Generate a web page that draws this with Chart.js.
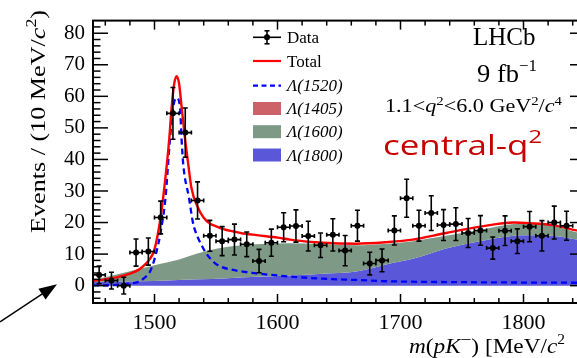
<!DOCTYPE html>
<html>
<head>
<meta charset="utf-8">
<script src="https://cdn.jsdelivr.net/npm/chart.js@4.4.0/dist/chart.umd.min.js"></script>
<style>
  html, body { margin: 0; padding: 0; background: #fff; overflow: hidden; }
  #wrap { width: 600px; height: 358px; }
</style>
</head>
<body>
<div id="wrap"><canvas id="chart" width="600" height="358"></canvas></div>
<script>
// m(pK-) histogram, 10 MeV bins
const binCentres = [1455, 1465, 1475, 1485, 1495, 1505, 1515, 1525, 1535, 1545,
  1555, 1565, 1575, 1585, 1595, 1605, 1615, 1625, 1635, 1645,
  1655, 1665, 1675, 1685, 1695, 1705, 1715, 1725, 1735, 1745,
  1755, 1765, 1775, 1785, 1795, 1805, 1815, 1825, 1835];
const events = [3.4, 1.6, 0.0, 10.5, 10.8, 21.6, 54.6, 48.5, 27.0, 15.8,
  14.1, 14.6, 13.1, 7.8, 13.6, 18.5, 18.9, 15.7, 12.8, 16.1,
  11.1, 19.0, 7.0, 8.0, 17.5, 27.7, 19.0, 23.0, 19.2, 19.5,
  16.7, 17.5, 11.9, 17.4, 14.1, 18.7, 15.8, 20.0, 19.0];
const eventErrors = [2.8, 2.65, 2.65, 4.3, 4.3, 5.2, 8.2, 7.8, 5.9, 4.9,
  4.6, 4.9, 3.9, 3.7, 4.3, 4.6, 5.1, 4.7, 3.9, 5.1,
  4.8, 4.9, 3.6, 3.6, 4.6, 6.0, 4.9, 5.5, 4.9, 5.2,
  4.6, 4.7, 3.5, 4.7, 3.9, 4.8, 4.8, 5.2, 4.6];

// total fit
const totalMass = [1450, 1460, 1470, 1480, 1487, 1492, 1496, 1500, 1505, 1510,
  1512, 1514, 1516, 1518, 1520, 1522, 1525, 1527.5, 1530, 1535,
  1540, 1545, 1550, 1556, 1570, 1583, 1600, 1610, 1637, 1664,
  1689, 1710, 1737, 1765, 1792, 1805, 1824, 1843, 1850];
const totalFit = [1.5, 2.0, 2.7, 3.8, 5.0, 6.6, 8.3, 11.5, 21.8, 38.3,
  46.5, 56.8, 64.0, 66.4, 64.0, 56.8, 46.0, 38.3, 31.0, 25.0,
  21.5, 19.7, 18.8, 17.9, 16.7, 16.0, 15.2, 14.6, 13.6, 13.3,
  13.8, 14.6, 16.7, 18.7, 20.0, 19.8, 19.2, 17.5, 17.0];

// Lambda(1520) component
const l1520Mass = [1450, 1470, 1480, 1487, 1491, 1497, 1503, 1507, 1509, 1511,
  1512.6, 1515.3, 1518, 1520.7, 1522, 1523.4, 1528, 1531, 1533, 1538,
  1542.5, 1548, 1553, 1561, 1583, 1610, 1637, 1664, 1689, 1750, 1850];
const l1520Fit = [0.1, 0.2, 0.7, 1.2, 2.2, 5.0, 13.0, 21.8, 28.0, 38.3,
  46.5, 56.8, 59.5, 56.8, 46.5, 38.3, 27.9, 20.5, 17.5, 13.0,
  10.0, 7.5, 6.2, 5.2, 3.9, 2.9, 2.2, 1.8, 1.4, 1.1, 0.9];

// broad states: Lambda(1800) alone, and Lambda(1600) stacked on top of it
const bkgMass = [1450, 1475, 1500, 1520, 1537, 1556, 1583, 1610, 1637, 1664,
  1689, 1710, 1737, 1765, 1792, 1805, 1824, 1843, 1850];
const l1800Fit = [1.2, 1.3, 1.5, 1.8, 2.0, 2.3, 2.8, 3.2, 3.8, 4.5,
  6.8, 8.5, 11.8, 14.1, 15.8, 16.0, 15.8, 14.6, 14.0];
const l1600Stack = [1.8, 4.1, 6.5, 8.3, 10.4, 12.1, 13.1, 13.4, 13.1, 12.8,
  13.3, 14.1, 15.8, 17.7, 19.5, 19.7, 18.9, 16.9, 16.4];

const xTickValues = [1500, 1600, 1700, 1800];
const yTickValues = [0, 10, 20, 30, 40, 50, 60, 70, 80];
const legendLabels = ['Data', 'Total', 'Λ(1520)', 'Λ(1405)', 'Λ(1600)', 'Λ(1800)'];

const RED = '#ff0000';
const BLUE = '#0000ff';
const FILL_1405 = '#cd6268';
const FILL_1600 = '#7e9a87';
const FILL_1800 = '#5a58d8';
const serif = '"Liberation Serif", "Times New Roman", serif';
const sans = '"Open Sans", "Noto Sans", sans-serif';

const pts = (xs, ys) => xs.map((x, i) => ({ x: x, y: ys[i] }));

function richWidth(ctx, segs) {
  let w = 0;
  for (const s of segs) { ctx.font = s.font; w += ctx.measureText(s.text).width; }
  return w;
}

// draws mixed-font text on one baseline, optionally squeezed/stretched to a width
function drawRich(ctx, segs, x, y, width) {
  const sx = width ? width / richWidth(ctx, segs) : 1;
  ctx.save();
  ctx.translate(x, y);
  ctx.scale(sx, 1);
  ctx.textBaseline = 'alphabetic';
  ctx.textAlign = 'left';
  let cx = 0;
  for (const s of segs) {
    ctx.font = s.font;
    ctx.fillStyle = s.color || '#000';
    ctx.fillText(s.text, cx, -(s.rise || 0));
    cx += ctx.measureText(s.text).width;
  }
  ctx.restore();
}

function seg(text, size, style, rise, color) {
  return { text: text, font: (style || '') + ' ' + size + 'px ' + serif, rise: rise, color: color };
}

function line(ctx, x1, y1, x2, y2) {
  ctx.beginPath(); ctx.moveTo(x1, y1); ctx.lineTo(x2, y2); ctx.stroke();
}

const rootStyle = {
  id: 'rootStyle',
  beforeDraw(chart) {
    const ctx = chart.ctx;
    ctx.save();
    ctx.fillStyle = '#fff';
    ctx.fillRect(0, 0, chart.width, chart.height);
    ctx.restore();
  },
  afterDatasetsDraw(chart) {
    // error bars on the data points
    const ctx = chart.ctx, xs = chart.scales.x, ys = chart.scales.y;
    const a = chart.chartArea;
    ctx.save();
    ctx.beginPath();
    ctx.rect(a.left, a.top, a.right - a.left, a.bottom - a.top);
    ctx.clip();
    ctx.strokeStyle = '#000';
    ctx.lineWidth = 1.6;
    binCentres.forEach((c, i) => {
      const px = xs.getPixelForValue(c), py = ys.getPixelForValue(events[i]);
      const x1 = xs.getPixelForValue(c - 5), x2 = xs.getPixelForValue(c + 5);
      const y1 = ys.getPixelForValue(events[i] + eventErrors[i]);
      const y2 = ys.getPixelForValue(events[i] - eventErrors[i]);
      line(ctx, x1, py, x2, py);
      line(ctx, px, y1, px, y2);
      line(ctx, px - 2.5, y1, px + 2.5, y1);
      line(ctx, px - 2.5, y2, px + 2.5, y2);
      line(ctx, x1, py - 2, x1, py + 2);
      line(ctx, x2, py - 2, x2, py + 2);
    });
    ctx.restore();
  },
  afterDraw(chart) {
    const ctx = chart.ctx, xs = chart.scales.x, ys = chart.scales.y;
    const { left, right, top, bottom } = chart.chartArea;
    ctx.save();

    // inward ticks and frame
    ctx.strokeStyle = '#000';
    ctx.lineWidth = 1.5;
    for (let v = 1460; v <= 1840; v += 20) {
      const px = xs.getPixelForValue(v);
      const len = v % 100 === 0 ? 9 : 5;
      line(ctx, px, bottom, px, bottom - len);
      line(ctx, px, top, px, top + len);
    }
    for (let v = -4; v <= 82; v += 2) {
      const py = ys.getPixelForValue(v);
      const len = v % 10 === 0 ? 15 : 7.5;
      line(ctx, left, py, left + len, py);
      line(ctx, right, py, right - len, py);
    }
    ctx.lineWidth = 2;
    ctx.strokeRect(left, top, right - left, bottom - top);

    // axis titles
    ctx.save();
    ctx.translate(45, 233);
    ctx.rotate(-Math.PI / 2);
    drawRich(ctx, [seg('Events / (10 MeV/', 22), seg('c', 22, 'italic'),
      seg('2', 15, '', 9), seg(')', 22)], 0, 0, 223);
    ctx.restore();
    drawRich(ctx, [seg('m', 21, 'italic'), seg('(', 21), seg('pK', 21, 'italic'),
      seg('\u2212', 17, '', 8), seg(') [MeV/', 21), seg('c', 21, 'italic'),
      seg('2', 14, '', 9)], 409, 353, 156);
    drawRich(ctx, [seg(']', 21)], 580, 353);

    // legend
    const lx0 = 253, lx1 = 281, tx = 287;
    const rows = [37.3, 61, 85.7, 108.5, 131.7, 155];
    ctx.lineWidth = 1.6;
    line(ctx, lx0, rows[0], lx1, rows[0]);
    line(ctx, 267, rows[0] - 6.5, 267, rows[0] + 6.5);
    line(ctx, 264.5, rows[0] - 6.5, 269.5, rows[0] - 6.5);
    line(ctx, 264.5, rows[0] + 6.5, 269.5, rows[0] + 6.5);
    ctx.beginPath(); ctx.arc(267, rows[0], 3, 0, Math.PI * 2); ctx.fillStyle = '#000'; ctx.fill();
    ctx.strokeStyle = RED; ctx.lineWidth = 2.2;
    line(ctx, lx0, rows[1], lx1, rows[1]);
    ctx.strokeStyle = BLUE; ctx.setLineDash([5, 3.5]);
    line(ctx, lx0, rows[2], lx1, rows[2]);
    ctx.setLineDash([]);
    [FILL_1405, FILL_1600, FILL_1800].forEach((c, k) => {
      ctx.fillStyle = c;
      ctx.fillRect(lx0, rows[3 + k] - 6.5, lx1 - lx0, 13);
    });
    legendLabels.forEach((t, k) => {
      drawRich(ctx, [seg(t, 17, k >= 2 ? 'italic' : '')], tx, rows[k] + 5.5);
    });

    // labels on the right
    drawRich(ctx, [seg('LHCb', 25)], 473, 45);
    drawRich(ctx, [seg('9 fb', 25), seg('\u22121', 16, '', 11)], 477, 82, 60);
    drawRich(ctx, [seg('1.1<', 18), seg('q', 18, 'italic'), seg('2', 12, '', 7),
      seg('<6.0 GeV', 18), seg('2', 12, '', 7), seg('/', 18), seg('c', 18, 'italic'),
      seg('4', 12, '', 7)], 385, 112, 177);
    drawRich(ctx, [{ text: 'central-q', font: '28px ' + sans, color: '#c80000' },
      { text: '2', font: '19px ' + sans, rise: 12, color: '#c80000' }], 383, 155, 159);

    // arrow pointing at the zero line
    const tipX = left - 36, tipY = ys.getPixelForValue(0) - 1.5;
    const ang = Math.atan2(tipY - 322, tipX - 0);
    ctx.strokeStyle = '#000'; ctx.fillStyle = '#000'; ctx.lineWidth = 1.5;
    line(ctx, 0, 322, tipX - 14 * Math.cos(ang), tipY - 14 * Math.sin(ang));
    ctx.beginPath();
    ctx.moveTo(tipX, tipY);
    ctx.lineTo(tipX - 18 * Math.cos(ang) + 6.5 * Math.sin(ang), tipY - 18 * Math.sin(ang) - 6.5 * Math.cos(ang));
    ctx.lineTo(tipX - 18 * Math.cos(ang) - 6.5 * Math.sin(ang), tipY - 18 * Math.sin(ang) + 6.5 * Math.cos(ang));
    ctx.closePath();
    ctx.fill();

    ctx.restore();
  }
};

const curve = { pointRadius: 0, cubicInterpolationMode: 'monotone', borderJoinStyle: 'round' };

new Chart(document.getElementById('chart'), {
  type: 'line',
  data: {
    datasets: [
      { label: 'Data', data: pts(binCentres, events), showLine: false,
        pointRadius: 3, pointBackgroundColor: '#000', pointBorderColor: '#000', pointBorderWidth: 0 },
      Object.assign({ label: 'Total', data: pts(totalMass, totalFit), borderColor: RED,
        borderWidth: 2.4, fill: false }, curve),
      Object.assign({ label: 'Λ(1520)', data: pts(l1520Mass, l1520Fit), borderColor: BLUE,
        borderWidth: 2.3, borderDash: [6, 4], fill: false }, curve),
      Object.assign({ label: 'Λ(1600)', data: pts(bkgMass, l1600Stack), borderWidth: 0,
        borderColor: 'rgba(0,0,0,0)', backgroundColor: FILL_1600, fill: 4 }, curve),
      Object.assign({ label: 'Λ(1800)', data: pts(bkgMass, l1800Fit), borderWidth: 0,
        borderColor: 'rgba(0,0,0,0)', backgroundColor: FILL_1800, fill: 'origin' }, curve)
    ]
  },
  options: {
    responsive: false,
    animation: false,
    devicePixelRatio: 1,
    layout: { padding: { left: 0, right: 15, top: 12, bottom: 0 } },
    plugins: { legend: { display: false }, tooltip: { enabled: false } },
    scales: {
      x: {
        type: 'linear', min: 1450, max: 1850,
        afterBuildTicks: s => { s.ticks = xTickValues.map(v => ({ value: v })); },
        afterFit: s => { s.height = 55; },
        grid: { display: false, drawTicks: false },
        border: { display: false },
        ticks: { color: '#000', font: { family: serif, size: 22 }, padding: 7, maxRotation: 0,
          autoSkip: false, callback: v => String(v) }
      },
      y: {
        min: -5.5, max: 84,
        afterBuildTicks: s => { s.ticks = yTickValues.map(v => ({ value: v })); },
        afterFit: s => { s.width = 93; },
        grid: { display: false, drawTicks: false },
        border: { display: false },
        ticks: { color: '#000', font: { family: serif, size: 21 }, padding: 8 }
      }
    }
  },
  plugins: [rootStyle]
});
</script>
</body>
</html>
